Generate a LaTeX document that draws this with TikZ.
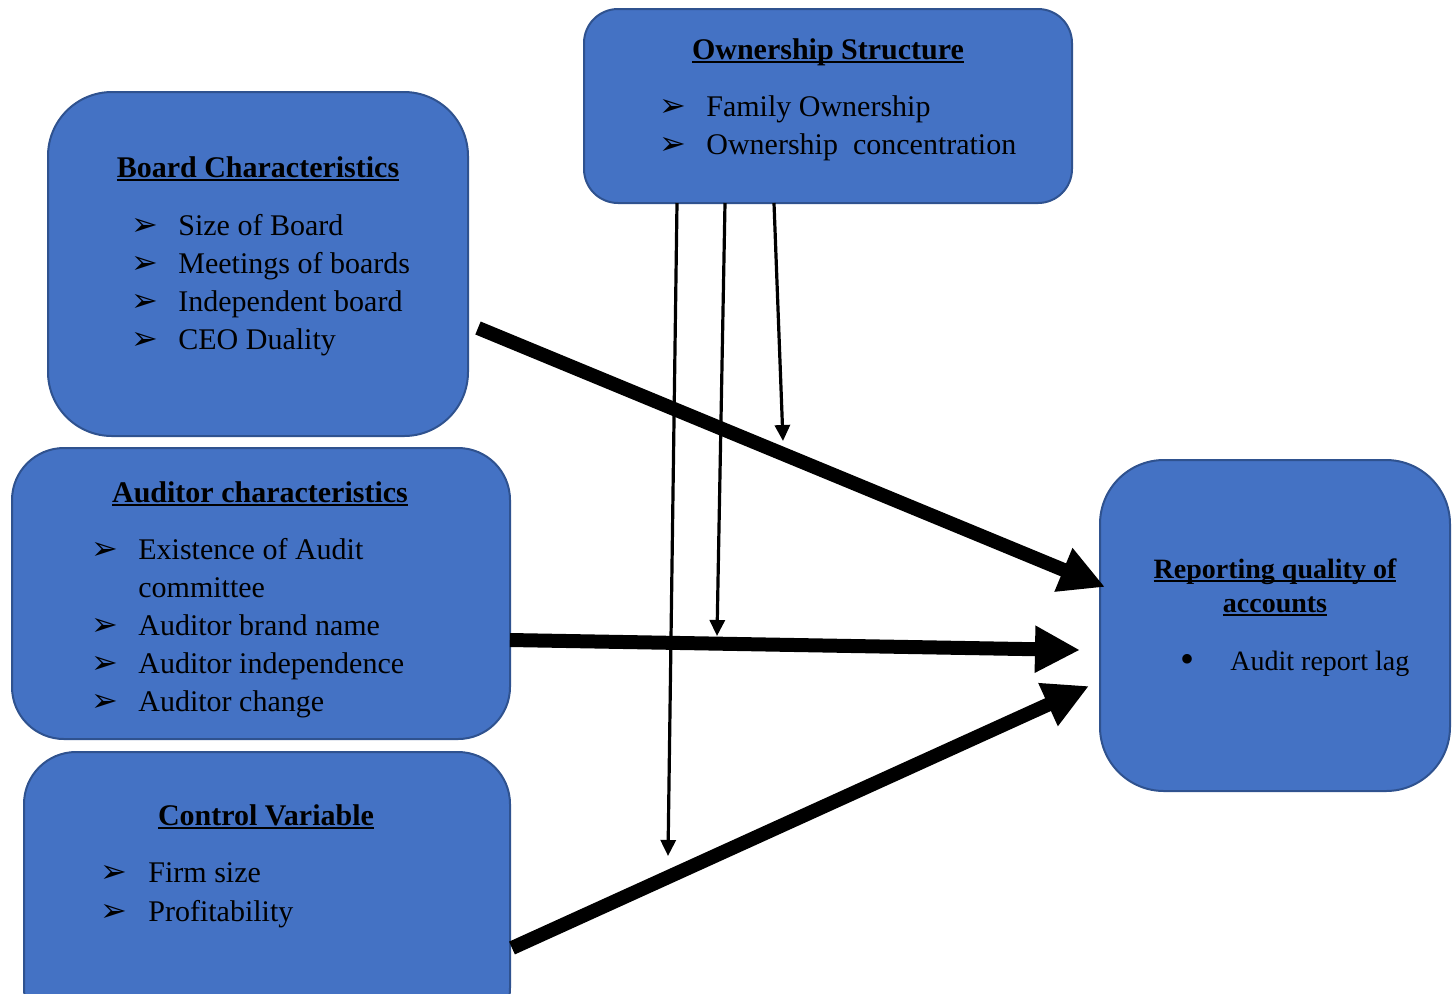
\documentclass[tikz,border=0pt]{standalone}
\usepackage{fontspec}
\setmainfont{Liberation Serif}
\newfontfamily\symfont{DejaVu Sans}
\usetikzlibrary{arrows.meta}
\definecolor{boxfill}{HTML}{4472C4}
\definecolor{boxline}{HTML}{2F528F}
\newlength\ulwd
\newcommand\myul[1]{\settowidth{\ulwd}{#1}\rlap{\rule[-2.2pt]{\ulwd}{1pt}}#1}
\newcommand\arr{{\symfont\fontsize{16pt}{18pt}\selectfont ➢}}
\begin{document}
\begin{tikzpicture}[x=0.5pt,y=-0.5pt,
  box/.style={draw=boxline,line width=1pt,fill=boxfill,inner sep=0pt},
  ttl/.style={anchor=base,inner sep=0pt,font=\fontsize{15pt}{18pt}\selectfont\bfseries},
  itm/.style={anchor=base west,inner sep=0pt,font=\fontsize{15pt}{18pt}\selectfont},
  bul/.style={anchor=base west,inner sep=0pt},
  thick arrow/.style={line width=7pt,-{Triangle[length=22.5pt,width=22pt]}},
  thin arrow/.style={line width=1.6pt,-{Triangle[length=8pt,width=7.5pt]}}]
\useasboundingbox (0,0) rectangle (1453,993);
\clip (0,0) rectangle (1453,993);
% boxes
\node[box,rounded corners=17pt,minimum width=244pt,minimum height=97pt] (own) at (828,106) {};
\node[box,rounded corners=32pt,minimum width=210pt,minimum height=172pt] (board) at (258,264) {};
\node[box,rounded corners=26pt,minimum width=249pt,minimum height=145.5pt] (aud) at (261,593.5) {};
\node[box,rounded corners=26pt,minimum width=243pt,minimum height=144pt] (ctrl) at (267,896) {};
\node[box,rounded corners=32pt,minimum width=175pt,minimum height=165.5pt] (rep) at (1275,625.5) {};
% ownership text
\node[ttl] (ownT) at (828,59) {\myul{Ownership Structure}};
\node[bul] (ownB1) at (659,116) {\arr};
\node[itm] (ownI1) at (706,116) {Family Ownership};
\node[bul] (ownB2) at (659,154) {\arr};
\node[itm] (ownI2) at (706,154) {Ownership\ \ concentration};
% board text
\node[ttl] (boardT) at (258,177) {\myul{Board Characteristics}};
\node[bul] (boardB1) at (131,235) {\arr};
\node[itm] (boardI1) at (178,235) {Size of Board};
\node[bul] (boardB2) at (131,273) {\arr};
\node[itm] (boardI2) at (178,273) {Meetings of boards};
\node[bul] (boardB3) at (131,311) {\arr};
\node[itm] (boardI3) at (178,311) {Independent board};
\node[bul] (boardB4) at (131,349) {\arr};
\node[itm] (boardI4) at (178,349) {CEO Duality};
% auditor text
\node[ttl] (audT) at (260,502) {\myul{Auditor characteristics}};
\node[bul] (audB1) at (91,559) {\arr};
\node[itm] (audI1) at (138,559) {Existence of Audit};
\node[itm] (audI1b) at (138,597) {committee};
\node[bul] (audB2) at (91,635) {\arr};
\node[itm] (audI2) at (138,635) {Auditor brand name};
\node[bul] (audB3) at (91,673) {\arr};
\node[itm] (audI3) at (138,673) {Auditor independence};
\node[bul] (audB4) at (91,711) {\arr};
\node[itm] (audI4) at (138,711) {Auditor change};
% control text
\node[ttl] (ctrlT) at (266,825) {\myul{Control Variable}};
\node[bul] (ctrlB1) at (100,882) {\arr};
\node[itm] (ctrlI1) at (148,882) {Firm size};
\node[bul] (ctrlB2) at (100,921) {\arr};
\node[itm] (ctrlI2) at (148,921) {Profitability};
% reporting text
\node[ttl,font=\fontsize{14pt}{17pt}\selectfont\bfseries] (repT1) at (1275,578) {\myul{Reporting quality of}};
\node[ttl,font=\fontsize{14pt}{17pt}\selectfont\bfseries] (repT2) at (1275,612) {\myul{accounts}};
\node[itm,font=\fontsize{20pt}{20pt}\selectfont] (repB) at (1180,672) {•};
\node[itm,font=\fontsize{14pt}{17pt}\selectfont] (repI) at (1230,670) {Audit report lag};
% connector points
\coordinate (s1) at (478,328);
\coordinate (e1) at (1105,587);
\coordinate (s2) at (510,640);
\coordinate (e2) at (1080,650);
\coordinate (s3) at (512,948);
\coordinate (e3) at (1089,686);
\coordinate (ta) at (677,203);
\coordinate (tae) at (668,856);
\coordinate (tb) at (725,203);
\coordinate (tbe) at (717,636);
\coordinate (tc) at (774,203);
\coordinate (tce) at (783,441);
% arrows
\draw[thin arrow] (ta) -- (tae);
\draw[thin arrow] (tb) -- (tbe);
\draw[thin arrow] (tc) -- (tce);
\draw[thick arrow] (s1) -- (e1);
\draw[thick arrow] (s2) -- (e2);
\draw[thick arrow] (s3) -- (e3);
\end{tikzpicture}
\end{document}
